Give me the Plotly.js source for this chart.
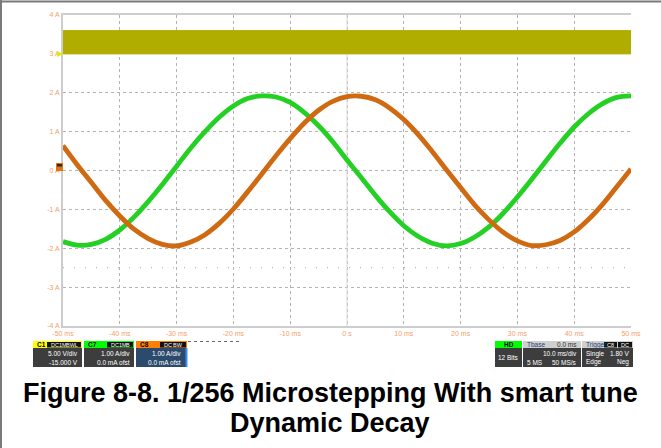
<!DOCTYPE html>
<html>
<head>
<meta charset="utf-8">
<script src="https://cdn.plot.ly/plotly-3.0.1.min.js"></script>
<style>
  html, body { margin: 0; padding: 0; background: #ffffff; }
  #chart { width: 661px; height: 448px; }
</style>
</head>
<body>
<div id="chart"></div>
<script>
// Sample times (ms) relative to the trigger
const timeMs = [-50, -47.5, -45, -42.5, -40, -37.5, -35, -32.5, -30, -27.5, -25, -22.5, -20,
  -17.5, -15, -12.5, -10, -7.5, -5, -2.5, 0, 2.5, 5, 7.5, 10, 12.5, 15, 17.5, 20, 22.5, 25,
  27.5, 30, 32.5, 35, 37.5, 40, 42.5, 45, 47.5, 50];

// Coil A current (A), green trace
const coilA = [-1.83, -1.92, -1.90, -1.77, -1.53, -1.20, -0.80, -0.36, 0.11, 0.58, 1.00, 1.37, 1.66,
  1.85, 1.92, 1.89, 1.75, 1.49, 1.15, 0.74, 0.27, -0.18, -0.64, -1.06, -1.42, -1.69, -1.87, -1.94,
  -1.88, -1.71, -1.45, -1.10, -0.68, -0.23, 0.24, 0.70, 1.12, 1.46, 1.72, 1.88, 1.92];

// Coil B current (A), orange trace
const coilB = [0.64, 0.15, -0.31, -0.77, -1.17, -1.51, -1.75, -1.90, -1.94, -1.84, -1.65, -1.36, -0.99,
  -0.55, -0.09, 0.38, 0.82, 1.22, 1.55, 1.78, 1.90, 1.91, 1.82, 1.61, 1.31, 0.93, 0.49, 0.02,
  -0.44, -0.89, -1.27, -1.59, -1.81, -1.93, -1.91, -1.80, -1.58, -1.26, -0.87, -0.42, 0.04];

// PWM step input envelope (divisions), yellow band
const stepLow = 3.0;
const stepHigh = 3.6;

// Graticule labels
const xTickVals = [-50, -40, -30, -20, -10, 0, 10, 20, 30, 40, 50];
const xTickText = ['-50 ms', '-40 ms', '-30 ms', '-20 ms', '-10 ms', '0 s', '10 ms', '20 ms', '30 ms', '40 ms', '50 ms'];
const yTickVals = [-4, -3, -2, -1, 0, 1, 2, 3, 4];
const yTickText = ['-4 A', '-3 A', '-2 A', '-1 A', '0 A', '1 A', '2 A', '3 A', '4 A'];

const titleLines = ['Figure 8-8. 1/256 Microstepping With smart tune', 'Dynamic Decay'];

// Plot area in pixels, used to place the readout boxes under the grid
const L = 63, R = 631, T = 15, B = 326;
const px = x => (x - L) / (R - L);
const py = y => (B - y) / (B - T);

const shapes = [];
const annotations = [];

function rect(x0, y0, x1, y1, fill) {
  shapes.push({ type: 'rect', xref: 'paper', yref: 'paper', layer: 'above',
    x0: px(x0), x1: px(x1), y0: py(y1), y1: py(y0), fillcolor: fill, line: { width: 0 } });
}
function line(x0, y0, x1, y1, color, width, dash) {
  shapes.push({ type: 'line', xref: 'paper', yref: 'paper', layer: 'above',
    x0: px(x0), x1: px(x1), y0: py(y0), y1: py(y1), line: { color: color, width: width, dash: dash || 'solid' } });
}
function label(x, y, s, anchor, color, size, bold) {
  annotations.push({ xref: 'paper', yref: 'paper', x: px(x), y: py(y), text: s, showarrow: false,
    xanchor: anchor, yanchor: 'middle',
    font: { family: 'Liberation Sans, Arial, sans-serif', size: size || 6.5, color: color || '#ffffff',
      weight: bold ? 'bold' : 'normal' } });
}

// Page frame
line(0, 1.5, 661, 1.5, '#7a7a7a', 2);
line(1, 0, 1, 448, '#7a7a7a', 2);

// Open right edge of the graticule
shapes.push({ type: 'line', xref: 'paper', yref: 'paper', x0: 1, x1: 1, y0: 0.004, y1: 0.996, layer: 'between',
  line: { color: '#ffffff', width: 3 } });

// Centre graticule lines
shapes.push({ type: 'line', xref: 'x', yref: 'y', x0: 0, x1: 0, y0: -4, y1: 4, layer: 'between',
  line: { color: '#d9d9d9', width: 1 } });
shapes.push({ type: 'line', xref: 'x', yref: 'y', x0: -50, x1: 50, y0: -2.5, y1: -2.5, layer: 'between',
  line: { color: '#a8a8a8', width: 1, dash: '1px,10px' } });

// Channel markers on the left edge
rect(56, 163, 63, 171, '#e07410');
rect(57, 164, 62, 166.5, '#2a2a2a');
shapes.push({ type: 'path', xref: 'paper', yref: 'paper', layer: 'above',
  path: `M ${px(57)} ${py(51)} L ${px(63)} ${py(54)} L ${px(57)} ${py(57)} Z`,
  fillcolor: '#e8e800', line: { width: 0 } });

// Channel readout boxes
const hdrTop = 341, hdrBot = 348, bodyBot = 367;
// C1
rect(33, hdrTop, 82, hdrBot, '#ffff00');
rect(33, hdrBot, 82, bodyBot, '#3d3d3d');
rect(47, 342, 81, 347.5, '#121212');
label(35, 344.5, 'C1', 'left', '#000000', 6.5, true);
label(49, 344.5, 'DC1M', 'left', '#ffffff', 5.5);
label(80, 344.5, 'BWL', 'right', '#ffffff', 5.5);
label(80, 353.5, '5.00 V/div', 'right');
label(80, 362, '-15.000 V', 'right');
// C7
rect(84, hdrTop, 134, hdrBot, '#00ff00');
rect(84, hdrBot, 134, bodyBot, '#3d3d3d');
rect(107, 342, 133, 347.5, '#121212');
label(86, 344.5, 'C7', 'left', '#000000', 6.5, true);
label(109, 344.5, 'DC1M', 'left', '#ffffff', 5.5);
label(132, 344.5, 'B', 'right', '#ffffff', 5.5);
label(132, 353.5, '1.00 A/div', 'right');
label(132, 362, '0.0 mA ofst', 'right');
// C8
rect(136, hdrTop, 187, hdrBot, '#ff7f00');
rect(136, hdrBot, 187, bodyBot, '#2c4a6b');
rect(185.5, hdrBot, 187.5, bodyBot, '#3b8bff');
rect(160, 342, 186, 347.5, '#121212');
label(138, 344.5, 'C8', 'left', '#000000', 6.5, true);
label(162, 344.5, 'DC', 'left', '#ffffff', 5.5);
label(185, 344.5, 'BW', 'right', '#ffffff', 5.5);
label(183, 353.5, '1.00 A/div', 'right');
label(183, 362, '0.0 mA ofst', 'right');
line(188, 341.5, 239, 341.5, '#6a6a6a', 1, 'dot');

// Acquisition boxes
rect(495, hdrTop, 522, hdrBot, '#00ff00');
rect(495, hdrBot, 522, bodyBot, '#3d3d3d');
label(508.5, 344.5, 'HD', 'center', '#000000', 6.5, true);
label(508.5, 357.5, '12 Bits', 'center');

rect(523, hdrTop, 581, hdrBot, '#cfcfcf');
rect(523, hdrBot, 581, bodyBot, '#3d3d3d');
label(525, 344.5, 'Tbase', 'left', '#27407a', 6.5);
label(579, 344.5, '0.0 ms', 'right', '#333333', 6.5);
label(579, 353.5, '10.0 ms/div', 'right');
label(525, 362, '5 MS', 'left');
label(579, 362, '50 MS/s', 'right');

rect(582, hdrTop, 633, hdrBot, '#cfcfcf');
rect(582, hdrBot, 633, bodyBot, '#3d3d3d');
rect(604, 342, 617, 347.5, '#121212');
rect(618, 342, 632, 347.5, '#121212');
label(584, 344.5, 'Trigger', 'left', '#27407a', 6.5);
label(610.5, 344.5, 'C8', 'center', '#ffffff', 5.5);
label(625, 344.5, 'DC', 'center', '#ffffff', 5.5);
label(584, 353.5, 'Single', 'left');
label(631, 353.5, '1.80 V', 'right');
label(584, 362, 'Edge', 'left');
label(631, 362, 'Neg', 'right');

// Figure caption
annotations.push({ xref: 'paper', yref: 'paper', x: px(330), y: py(393), text: '<b>' + titleLines[0] + '</b>',
  showarrow: false, xanchor: 'center', yanchor: 'middle',
  font: { family: 'Liberation Sans, Arial, sans-serif', size: 27, color: '#000000' } });
annotations.push({ xref: 'paper', yref: 'paper', x: px(330), y: py(423), text: '<b>' + titleLines[1] + '</b>',
  showarrow: false, xanchor: 'center', yanchor: 'middle',
  font: { family: 'Liberation Sans, Arial, sans-serif', size: 27, color: '#000000' } });

const tStart = timeMs[0], tEnd = timeMs[timeMs.length - 1];

const traces = [
  {
    x: [tStart, tEnd, tEnd, tStart, tStart],
    y: [stepLow, stepLow, stepHigh, stepHigh, stepLow],
    mode: 'lines', fill: 'toself', fillcolor: '#b0ac00',
    line: { color: '#b4b000', width: 1 }, hoverinfo: 'skip'
  },
  {
    x: timeMs, y: coilA, mode: 'lines', name: 'Coil A',
    line: { color: '#25d025', width: 4.8, shape: 'spline' }
  },
  {
    x: timeMs, y: coilB, mode: 'lines', name: 'Coil B',
    line: { color: '#d06a12', width: 4.8, shape: 'spline' }
  }
];

const axisFont = { family: 'Liberation Sans, Arial, sans-serif', size: 7, color: '#f4a068' };

const layout = {
  width: 661, height: 448,
  margin: { l: L, r: 661 - R, t: T, b: 448 - B, pad: 0 },
  paper_bgcolor: '#ffffff', plot_bgcolor: '#ffffff',
  showlegend: false,
  xaxis: {
    range: [tStart, tEnd], tickvals: xTickVals, ticktext: xTickText, tickfont: axisFont,
    showgrid: true, gridcolor: '#b3b3b3', griddash: 'dot', gridwidth: 1,
    zeroline: false, showline: true, linecolor: '#cdcdcd', linewidth: 2, mirror: true,
    ticks: '', fixedrange: true
  },
  yaxis: {
    range: [-4, 4], tickvals: yTickVals, ticktext: yTickText, tickfont: axisFont,
    showgrid: true, gridcolor: '#b3b3b3', griddash: 'dot', gridwidth: 1,
    zeroline: false, showline: true, linecolor: '#cdcdcd', linewidth: 2, mirror: false,
    ticks: '', fixedrange: true
  },
  shapes: shapes,
  annotations: annotations
};

Plotly.newPlot('chart', traces, layout, { displayModeBar: false, staticPlot: true });
</script>
</body>
</html>
